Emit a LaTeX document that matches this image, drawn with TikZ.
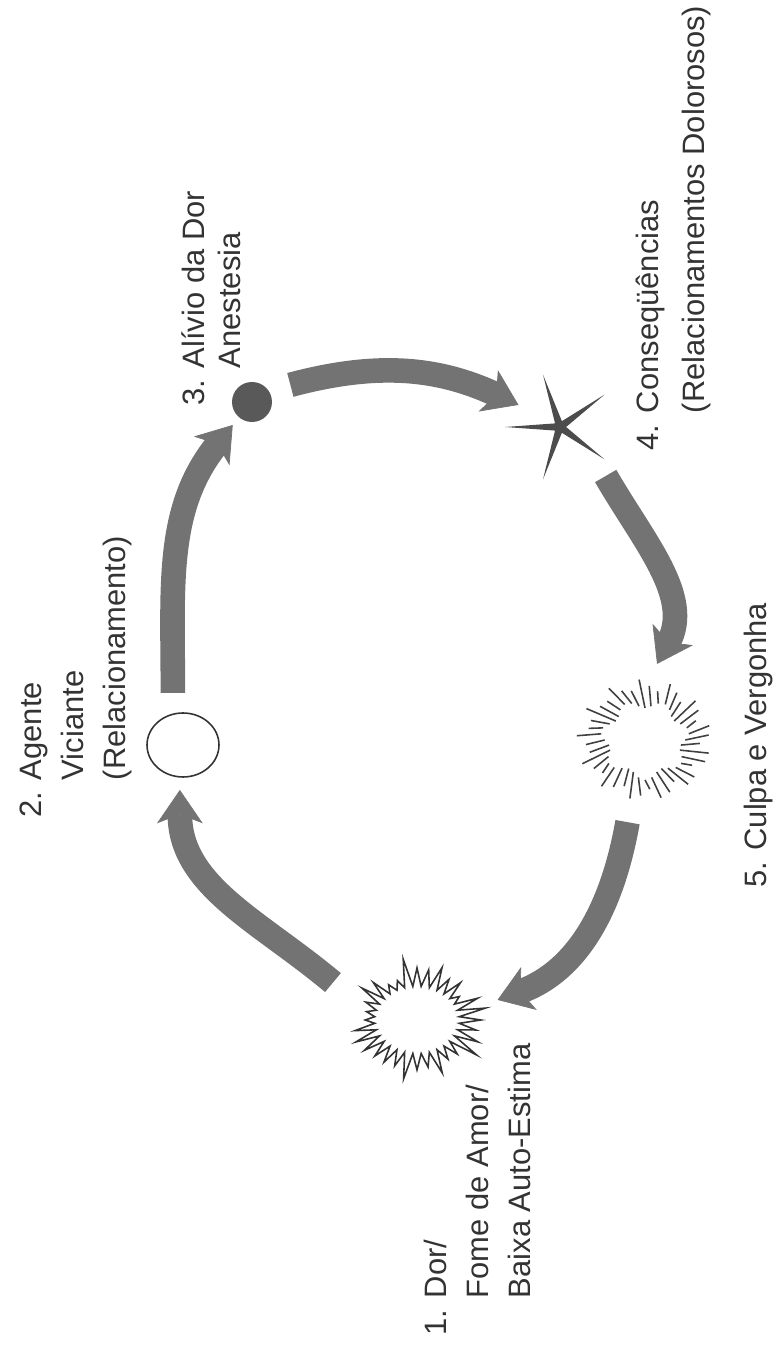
\documentclass[tikz,border=0pt]{standalone}
\usepackage{fontspec}
\setmainfont{Liberation Sans}
\usetikzlibrary{arrows.meta,shapes.geometric,shapes.symbols}
\newcommand{\lblfont}{\fontsize{17.6pt}{24pt}\selectfont}

\begin{document}
\begin{tikzpicture}[x=0.02cm,y=0.02cm,
    band/.style={line width=14pt, draw=black!55, -{Stealth[length=19pt,width=26pt,inset=5pt,line width=0.4pt]}},
    lbl/.style={rotate=90, anchor=base west, inner sep=0pt, text=black!80, font=\lblfont},
    tick/.style={draw=black!75, line width=0.9pt}]
    \useasboundingbox (0,0) rectangle (777,1346);

    % stages of the cycle
    \node[starburst, starburst points=32, starburst point height=0.6cm, random starburst=5,
          minimum width=2.9cm, minimum height=2.55cm, draw=black!80, line width=0.9pt, inner sep=0pt] (n1) at (417,326) {};
    \node[ellipse, draw=black!80, line width=0.9pt, minimum width=1.44cm, minimum height=1.28cm, inner sep=0pt] (n2) at (183,601) {};
    \node[circle, fill=black!65, minimum size=0.8cm, inner sep=0pt] (n3) at (252,944) {};
    \node[star, star points=5, star point ratio=9, shape border rotate=90, fill=black!70,
          minimum size=2.2cm, inner sep=0pt] (n4) at (560,919) {};
    \coordinate (n5) at (645,606);
    \foreach \a in {0,9,...,351}{
        \pgfmathsetmacro{\ri}{36+4*sin(7*\a)}
        \pgfmathsetmacro{\ro}{55+6*sin(13*\a+20)}
        \draw[tick] ([shift={({1.12*\ri*cos(\a)},{\ri*sin(\a)})}]n5.center)
            -- ([shift={({1.12*\ro*cos(\a+5)},{\ro*sin(\a+5)})}]n5.center);
    }

    % labels
    \node[lbl] (t1) at (446,10) {\begin{tabular}[t]{@{}l@{\hspace{0.38em}}l@{}}1. & Dor/\\ & Fome de Amor/\\ & Baixa Auto-Estima\end{tabular}};
    \node[lbl] (t2) at (41,528) {\begin{tabular}[t]{@{}l@{\hspace{0.38em}}l@{}}2. & Agente\\ & Viciante\\ & (Relacionamento)\end{tabular}};
    \node[lbl] (t3) at (204,940) {\begin{tabular}[t]{@{}l@{\hspace{0.38em}}l@{}}3. & Alívio da Dor\\[-3pt] & Anestesia\end{tabular}};
    \node[lbl] (t4) at (658,895) {\begin{tabular}[t]{@{}l@{\hspace{0.38em}}l@{}}4. & Conseqüências\\[2.5pt] & (Relacionamentos Dolorosos)\end{tabular}};
    \node[lbl] (t5) at (766,458) {5. Culpa e Vergonha};

    % arrows
    \draw[band] ([shift={(156:92)}]n1.center) to[out=140,in=-90] ([shift={(-94:45)}]n2.center);
    \draw[band] ([shift={(101:53)}]n2.center) to[out=90,in=-129] ([shift={(230:30)}]n3.center);
    \draw[band] ([shift={(24:42)}]n3.center) to[out=15,in=155] ([shift={(152:47)}]n4.center);
    \draw[band] ([shift={(-47:67)}]n4.center) to[out=-60,in=62] ([shift={(81:77)}]n5.center);
    \draw[band] ([shift={(-102:84)}]n5.center) to[out=-100,in=20] ([shift={(14:83)}]n1.center);
\end{tikzpicture}
\end{document}
